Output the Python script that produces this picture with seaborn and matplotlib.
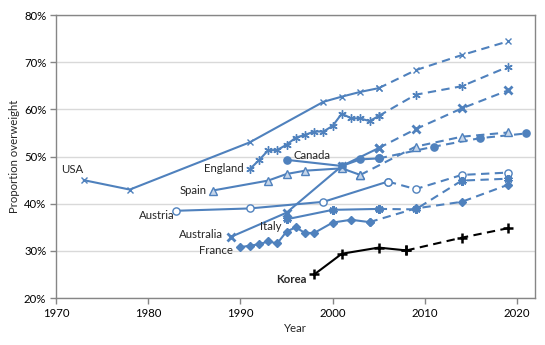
import matplotlib
matplotlib.use("Agg")
import matplotlib.pyplot as plt
import seaborn as sns
import pandas as pd
from matplotlib.ticker import FuncFormatter, MultipleLocator

# ---- data (percent overweight) ----
usa_years_obs = [1973, 1978, 1991, 1999, 2001, 2003, 2005]
usa_vals_obs = [45.0, 43.0, 53.0, 61.6, 62.7, 63.7, 64.5]
usa_years_proj = [2005, 2009, 2014, 2019]
usa_vals_proj = [64.5, 68.3, 71.5, 74.4]

eng_years_obs = [1991, 1992, 1993, 1994, 1995, 1996, 1997, 1998, 1999, 2000, 2001, 2002, 2003, 2004, 2005]
eng_vals_obs = [47.3, 49.2, 51.3, 51.4, 52.5, 54.0, 54.6, 55.3, 55.3, 56.5, 59.1, 58.1, 58.1, 57.5, 58.6]
eng_years_proj = [2005, 2009, 2014, 2019]
eng_vals_proj = [58.6, 63.1, 64.9, 69.0]

can_years_obs = [1995, 2001, 2003, 2005]
can_vals_obs = [49.3, 48.0, 49.4, 49.6]
can_years_proj = [2005, 2011, 2016, 2021]
can_vals_proj = [49.6, 52.1, 53.9, 54.9]

spa_years_obs = [1987, 1993, 1995, 1997, 2001, 2003]
spa_vals_obs = [42.8, 44.9, 46.3, 47.0, 47.5, 46.1]
spa_years_proj = [2003, 2009, 2014, 2019]
spa_vals_proj = [46.1, 52.1, 54.2, 55.1]

aut_years_obs = [1983, 1991, 1999, 2006]
aut_vals_obs = [38.5, 39.0, 40.4, 44.7]
aut_years_proj = [2006, 2009, 2014, 2019]
aut_vals_proj = [44.7, 43.1, 46.1, 46.6]

ausl_years_obs = [1989, 1995, 2001, 2005]
ausl_vals_obs = [33.0, 38.1, 48.0, 51.8]
ausl_years_proj = [2005, 2009, 2014, 2019]
ausl_vals_proj = [51.8, 55.8, 60.2, 64.0]

ita_years_obs = [1995, 2000, 2005]
ita_vals_obs = [36.7, 38.7, 38.9]
ita_years_proj = [2005, 2009, 2014, 2019]
ita_vals_proj = [38.9, 38.8, 44.9, 45.3]

fra_years_obs = [1990, 1991, 1992, 1993, 1994, 1995, 1996, 1997, 1998, 2000, 2002, 2004]
fra_vals_obs = [30.8, 31.1, 31.4, 32.0, 31.6, 34.1, 35.0, 33.8, 33.8, 36.0, 36.6, 36.1]
fra_years_proj = [2004, 2009, 2014, 2019]
fra_vals_proj = [36.1, 39.0, 40.4, 44.0]

kor_years_obs = [1998, 2001, 2005, 2008]
kor_vals_obs = [25.0, 29.4, 30.7, 30.1]
kor_years_proj = [2008, 2014, 2019]
kor_vals_proj = [30.1, 32.8, 34.8]

BLUE = "#4F81BD"
LIGHT = "#C6D6EA"

series = [
    ("USA", usa_years_obs, usa_vals_obs, usa_years_proj, usa_vals_proj,
     dict(color=BLUE, marker="x", ms=5, mew=1.0, mfc=BLUE, mec=BLUE)),
    ("England", eng_years_obs, eng_vals_obs, eng_years_proj, eng_vals_proj,
     dict(color=BLUE, marker=(6, 2, 0), ms=6, mew=1.0, mfc=BLUE, mec=BLUE)),
    ("Canada", can_years_obs, can_vals_obs, can_years_proj, can_vals_proj,
     dict(color=BLUE, marker="o", ms=5.2, mew=1.0, mfc=BLUE, mec=BLUE)),
    ("Spain", spa_years_obs, spa_vals_obs, spa_years_proj, spa_vals_proj,
     dict(color=BLUE, marker="^", ms=5.2, mew=1.0, mfc=LIGHT, mec=BLUE)),
    ("Austria", aut_years_obs, aut_vals_obs, aut_years_proj, aut_vals_proj,
     dict(color=BLUE, marker="o", ms=5.2, mew=1.0, mfc="white", mec=BLUE)),
    ("Australia", ausl_years_obs, ausl_vals_obs, ausl_years_proj, ausl_vals_proj,
     dict(color=BLUE, marker="x", ms=5.2, mew=2.0, mfc=BLUE, mec=BLUE)),
    ("Italy", ita_years_obs, ita_vals_obs, ita_years_proj, ita_vals_proj,
     dict(color=BLUE, marker=(6, 2, 0), ms=6, mew=2.0, mfc=BLUE, mec=BLUE)),
    ("France", fra_years_obs, fra_vals_obs, fra_years_proj, fra_vals_proj,
     dict(color=BLUE, marker="D", ms=4.0, mew=1.0, mfc=BLUE, mec=BLUE)),
    ("Korea", kor_years_obs, kor_vals_obs, kor_years_proj, kor_vals_proj,
     dict(color="black", marker="+", ms=7, mew=1.8, mfc="black", mec="black")),
]

sns.set_style("white")
plt.rcParams["font.family"] = ["Lato", "DejaVu Sans"]

fig = plt.figure(figsize=(5.45, 3.45), dpi=100)
ax = fig.add_axes([0.1028, 0.136, 0.8797, 0.8205])

for name, yo, vo, yp, vp, st in series:
    df_o = pd.DataFrame({"year": yo, "value": vo})
    df_p = pd.DataFrame({"year": yp, "value": vp})
    sns.lineplot(data=df_p, x="year", y="value", ax=ax, color=st["color"], lw=1.5,
                 linestyle=(0, (4.0, 2.6)), marker=st["marker"], ms=st["ms"], mew=st["mew"],
                 mfc=st["mfc"], mec=st["mec"], errorbar=None, sort=False)
    sns.lineplot(data=df_o, x="year", y="value", ax=ax, color=st["color"], lw=1.5,
                 marker=st["marker"], ms=st["ms"], mew=st["mew"],
                 mfc=st["mfc"], mec=st["mec"], errorbar=None, sort=False)

# labels
fs = 8.2
ax.text(1971.8, 47.2, "USA", ha="center", va="center", fontsize=fs)
ax.text(1990.3, 47.4, "England", ha="right", va="center", fontsize=fs)
ax.text(1995.8, 50.3, "Canada", ha="left", va="center", fontsize=fs)
ax.text(1986.3, 42.9, "Spain", ha="right", va="center", fontsize=fs)
ax.text(1982.9, 37.4, "Austria", ha="right", va="center", fontsize=fs)
ax.text(1988.1, 33.4, "Australia", ha="right", va="center", fontsize=fs)
ax.text(1992.1, 35.1, "Italy", ha="left", va="center", fontsize=fs)
ax.text(1989.2, 30.0, "France", ha="right", va="center", fontsize=fs)
ax.text(1997.2, 23.9, "Korea", ha="right", va="center", fontsize=fs, fontweight="bold")

ax.set_xlim(1970, 2022)
ax.set_ylim(20, 80)
ax.xaxis.set_major_locator(MultipleLocator(10))
ax.yaxis.set_major_locator(MultipleLocator(10))
ax.yaxis.set_major_formatter(FuncFormatter(lambda v, p: f"{v:.0f}%"))
ax.grid(axis="y", color="#D9D9D9", lw=1.0)
ax.set_axisbelow(True)
for s in ax.spines.values():
    s.set_color("#868686")
    s.set_linewidth(1.0)
    s.set_visible(True)
ax.tick_params(axis="both", direction="out", length=4, width=1, color="#868686",
               labelsize=fs, labelcolor="black", pad=3)
ax.tick_params(axis="x", bottom=True)
ax.tick_params(axis="y", left=True)
ax.set_xlabel("Year", fontsize=fs, labelpad=3)
ax.set_ylabel("Proportion overweight", fontsize=fs, labelpad=3)

fig.savefig("out.png", dpi=100)
